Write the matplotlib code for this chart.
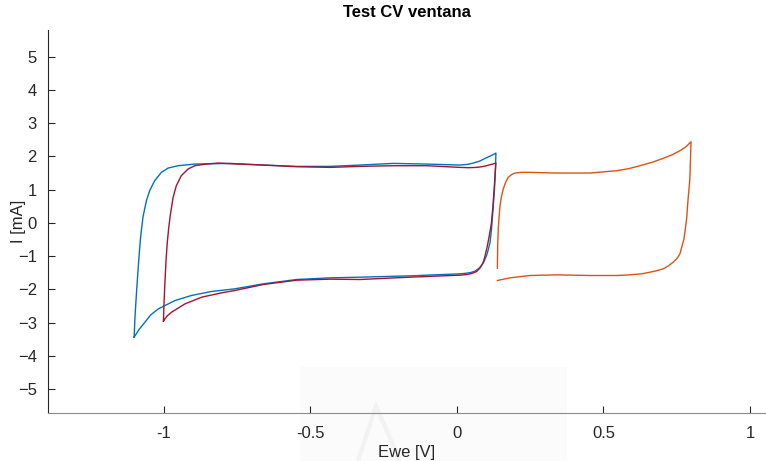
import matplotlib
matplotlib.use("Agg")
import matplotlib.pyplot as plt
from matplotlib.patches import Rectangle, Polygon

plt.rcParams['font.family'] = ['Liberation Sans', 'DejaVu Sans']

# Window test -1.1 V .. 0.14 V (anodic branch, then cathodic branch back)
blue_E = [-1.102, -1.099, -1.094, -1.089, -1.084, -1.080, -1.072, -1.060, -1.049, -1.032,
          -1.009, -0.986, -0.952, -0.895, -0.830,
          -0.775, -0.661, -0.547, -0.433, -0.331, -0.217, -0.103, 0.010, 0.035,
          0.056, 0.078, 0.096, 0.116, 0.133,
          0.131, 0.128, 0.124, 0.118, 0.113, 0.107, 0.101, 0.093, 0.084, 0.073,
          0.061, 0.047, 0.033, 0.010, -0.047, -0.160,
          -0.331, -0.433, -0.547, -0.661, -0.758, -0.838, -0.906, -0.962,
          -1.019, -1.045, -1.065, -1.085, -1.102]
blue_I = [-3.43, -2.80, -2.10, -1.45, -0.85, -0.43, 0.17, 0.67, 0.97, 1.27,
          1.52, 1.65, 1.72, 1.77, 1.78,
          1.79, 1.74, 1.70, 1.70, 1.74, 1.79, 1.77, 1.74, 1.76,
          1.80, 1.86, 1.94, 2.02, 2.10,
          1.52, 1.00, 0.52, -0.18, -0.58, -0.80, -0.98, -1.15, -1.28, -1.38,
          -1.45, -1.49, -1.51, -1.53, -1.55, -1.59,
          -1.63, -1.65, -1.70, -1.83, -1.98, -2.06, -2.18, -2.33,
          -2.58, -2.76, -2.98, -3.20, -3.43]

# Window test -1.0 V .. 0.14 V
red_E = [-1.002, -1.000, -0.997, -0.993, -0.989, -0.984, -0.978, -0.969, -0.958, -0.941,
         -0.918, -0.895, -0.856, -0.815,
         -0.775, -0.661, -0.547, -0.433, -0.331, -0.217, -0.103, 0.010, 0.040,
         0.067, 0.085, 0.101, 0.118, 0.133,
         0.130, 0.127, 0.123, 0.118, 0.111, 0.104, 0.097, 0.090, 0.079, 0.067,
         0.050, 0.033, 0.010, -0.047, -0.160,
         -0.331, -0.433, -0.547, -0.661, -0.758, -0.803, -0.871, -0.928,
         -0.974, -0.990, -1.002]
red_I = [-2.95, -2.40, -1.80, -1.10, -0.60, -0.15, 0.27, 0.77, 1.12, 1.42,
         1.62, 1.72, 1.77, 1.80,
         1.78, 1.74, 1.69, 1.67, 1.70, 1.72, 1.72, 1.67, 1.66,
         1.67, 1.69, 1.72, 1.76, 1.80,
         1.45, 1.02, 0.52, 0.02, -0.35, -0.68, -0.95, -1.18, -1.35, -1.46,
         -1.52, -1.55, -1.57, -1.59, -1.63,
         -1.70, -1.69, -1.72, -1.85, -2.03, -2.10, -2.23, -2.43,
         -2.68, -2.80, -2.95]

# Window test 0.14 V .. 0.8 V
orange_E = [0.138, 0.139, 0.141, 0.144, 0.147, 0.152, 0.158, 0.166, 0.175, 0.186,
            0.198, 0.220, 0.249, 0.340, 0.454,
            0.545, 0.585, 0.625, 0.665, 0.704, 0.735, 0.761, 0.782, 0.799,
            0.797, 0.795, 0.792, 0.789, 0.784, 0.775, 0.761, 0.751, 0.738,
            0.722, 0.704, 0.680, 0.659, 0.630, 0.590, 0.545, 0.454,
            0.340, 0.249, 0.181, 0.138]
orange_I = [-1.36, -0.70, -0.18, 0.20, 0.52, 0.80, 1.02, 1.22, 1.37, 1.45,
            1.50, 1.52, 1.52, 1.50, 1.50,
            1.57, 1.63, 1.72, 1.82, 1.94, 2.05, 2.17, 2.29, 2.44,
            1.85, 1.32, 1.00, 0.72, 0.12, -0.48, -0.93, -1.07, -1.18,
            -1.29, -1.38, -1.44, -1.48, -1.53, -1.56, -1.58, -1.58,
            -1.56, -1.58, -1.65, -1.73]

x_ticks = [-1, -0.5, 0, 0.5, 1]
x_ticklabels = ['-1', '-0.5', '0', '0.5', '1']
y_ticks = [-5, -4, -3, -2, -1, 0, 1, 2, 3, 4, 5]

axis_color = '#262626'

fig = plt.figure(figsize=(7.66, 4.61), dpi=100)
ax = fig.add_axes([0.0627, 0.105, 0.9373, 0.83])
ax.set_facecolor('none')

ax.plot(blue_E, blue_I, color='#0072BD', lw=1.0)
ax.plot(red_E, red_I, color='#A2142F', lw=1.0)
ax.plot(orange_E, orange_I, color='#D95319', lw=1.0)

ax.set_xlim(-1.396, 1.055)
ax.set_ylim(-5.7, 5.8)
ax.set_xticks(x_ticks)
ax.set_xticklabels(x_ticklabels)
ax.set_yticks(y_ticks)

for side in ('top', 'right'):
    ax.spines[side].set_visible(False)
ax.spines['left'].set_color(axis_color)
ax.spines['bottom'].set_color('#8c8c8c')
ax.tick_params(direction='in', length=5, width=0.8, colors=axis_color,
               labelsize=12)
ax.tick_params(axis='x', pad=10)
ax.tick_params(axis='y', pad=8)

ax.set_title('Test CV ventana', fontsize=12, fontweight='bold', color='black', pad=9)
ax.set_xlabel('Ewe [V]', fontsize=12, color=axis_color, labelpad=2.5)
ax.set_ylabel('I [mA]', fontsize=12, color=axis_color, labelpad=-6)

# faint logo stamp at the bottom
fig.patches.append(Rectangle((300 / 766, 0), 267 / 766, 94 / 461,
                             transform=fig.transFigure, facecolor='#f9f9f9',
                             edgecolor='none', alpha=0.6, zorder=-1))
fig.patches.append(Polygon([(358 / 766, 0), (376 / 766, 55 / 461), (400 / 766, 0)],
                           closed=False, transform=fig.transFigure, fill=False,
                           edgecolor='#f2f2f2', lw=3, zorder=-1))

fig.savefig('out.png', dpi=100)
